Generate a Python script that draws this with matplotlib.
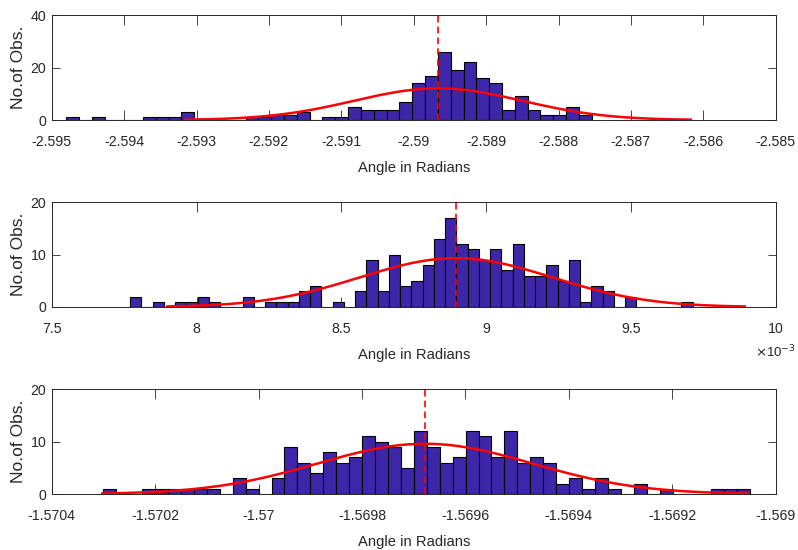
import numpy as np
import matplotlib
matplotlib.use("Agg")
import matplotlib.pyplot as plt
from matplotlib.ticker import FixedLocator, FuncFormatter

plt.rcParams['font.family'] = ['Liberation Sans', 'DejaVu Sans']

# bin counts (bin start + bin width in radians)
top_counts = [1, 0, 1, 0, 0, 0, 1, 1, 1, 3,
              0, 0, 0, 0, 1, 1, 2, 2, 3, 0,
              1, 1, 5, 4, 4, 4, 7, 14, 17, 26,
              19, 22, 16, 14, 4, 9, 4, 2, 2, 5, 2]
top_start = -2.594802
top_width = 0.0001771

mid_counts = [2, 0, 1, 0, 1, 1, 2, 1, 0, 0,
              2, 0, 1, 1, 1, 3, 4, 0, 1, 0,
              3, 9, 3, 10, 4, 5, 8, 13, 17, 12,
              11, 9, 11, 7, 12, 6, 6, 8, 5, 9,
              1, 4, 3, 0, 2, 0, 0, 0, 0, 1]
mid_start = 7.7704e-3
mid_width = 3.885e-5

bot_counts = [1, 0, 0, 1, 1, 1, 1, 1, 1, 0,
              3, 1, 0, 3, 9, 6, 4, 8, 6, 7,
              11, 10, 9, 5, 12, 9, 6, 7, 12, 11,
              7, 12, 6, 7, 6, 2, 3, 1, 3, 1,
              0, 2, 0, 1, 0, 0, 0, 1, 1, 1]
bot_start = -1.5703002
bot_width = 2.502e-5

# axis ranges / ticks
top_xticks = [-2.595, -2.594, -2.593, -2.592, -2.591, -2.59, -2.589, -2.588, -2.587, -2.586, -2.585]
mid_xticks = [7.5e-3, 8e-3, 8.5e-3, 9e-3, 9.5e-3, 10e-3]
bot_xticks = [-1.5704, -1.5702, -1.57, -1.5698, -1.5696, -1.5694, -1.5692, -1.569]

bar_col = (0.2422, 0.1504, 0.6603)
ax_col = (0.15, 0.15, 0.15)
fs = 10.2

fig = plt.figure(figsize=(7.98, 5.5), dpi=100)
W, H = 798, 550


def add_panel(top_px, counts, start, width, xticks, ymax, yticks, fmt):
    ax = fig.add_axes([51.7 / W, 1 - (top_px + 104.7) / H, 724 / W, 104.7 / H])
    counts = np.array(counts, dtype=float)
    centers = start + (np.arange(len(counts)) + 0.5) * width
    ax.bar(centers, counts, width=width, color=bar_col, edgecolor='k', linewidth=0.8, zorder=2)

    # normal fit from the histogram
    n = counts.sum()
    mu = (counts * centers).sum() / n
    sigma = np.sqrt((counts * (centers - mu) ** 2).sum() / (n - 1))
    xs = np.linspace(mu - 3 * sigma, mu + 3 * sigma, 200)
    ys = n * width * np.exp(-0.5 * ((xs - mu) / sigma) ** 2) / (sigma * np.sqrt(2 * np.pi))
    ax.plot(xs, ys, color='red', lw=1.8, zorder=3)
    ax.plot([mu, mu], [0, ymax], color='red', lw=1.2, dashes=(4, 2.5), zorder=4)

    ax.set_xlim(xticks[0], xticks[-1])
    ax.set_ylim(0, ymax)
    ax.xaxis.set_major_locator(FixedLocator(xticks))
    ax.xaxis.set_major_formatter(FuncFormatter(fmt))
    ax.set_yticks(yticks)
    ax.tick_params(direction='in', top=True, right=True, colors=ax_col, labelsize=fs, width=0.6)
    ax.tick_params(axis='x', length=7.2, pad=10.5)
    ax.tick_params(axis='y', length=5.5, pad=4)
    for s in ax.spines.values():
        s.set_color(ax_col)
        s.set_linewidth(0.7)
    ax.set_xlabel('Angle in Radians', fontsize=10.6, color=ax_col, labelpad=9)
    ax.set_ylabel('No.of Obs.', fontsize=12.5, color=ax_col, labelpad=3)
    return ax


add_panel(15.3, top_counts, top_start, top_width, top_xticks, 40, [0, 20, 40],
          lambda v, p: '%g' % round(v, 4))
add_panel(202.3, mid_counts, mid_start, mid_width, mid_xticks, 20, [0, 10, 20],
          lambda v, p: '%g' % round(v * 1e3, 4))
add_panel(389.3, bot_counts, bot_start, bot_width, bot_xticks, 20, [0, 10, 20],
          lambda v, p: '%g' % round(v, 5))

fig.text(796 / W, 1 - 352 / H, r'$\times$10$^{-3}$', fontsize=9.5, color=ax_col,
         va='center', ha='right')

fig.savefig('out.png', dpi=100)
